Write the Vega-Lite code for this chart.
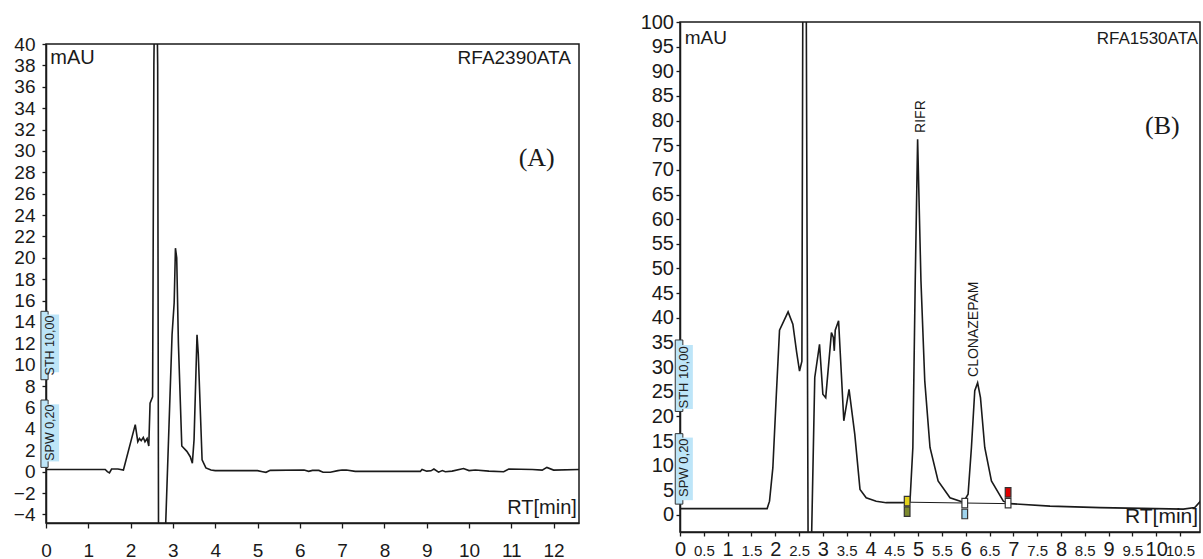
{
  "$schema": "https://vega.github.io/schema/vega-lite/v6.json",
  "background": "white",
  "padding": {"left": 12, "top": 11, "right": 4, "bottom": 0},
  "spacing": 59,
  "config": {
    "font": "Liberation Sans",
    "view": {"stroke": "#1a1a1a", "strokeWidth": 1.5},
    "axis": {"grid": false, "domainColor": "#1a1a1a", "domainWidth": 1.5, "tickColor": "#1a1a1a", "tickWidth": 1.3, "labelColor": "#1a1a1a", "labelFont": "Liberation Sans", "labelOverlap": false, "labelFlush": false, "title": null}
  },
  "datasets": {
    "traceA": [
      {"x": 0, "y": 0.2}, {"x": 1.4, "y": 0.2}, {"x": 1.45, "y": 0.0}, {"x": 1.5, "y": -0.12}, {"x": 1.55, "y": 0.25}, {"x": 1.7, "y": 0.25}, {"x": 1.83, "y": 0.15},
      {"x": 2.11, "y": 4.4}, {"x": 2.17, "y": 2.8}, {"x": 2.21, "y": 3.1}, {"x": 2.25, "y": 2.9}, {"x": 2.3, "y": 3.2}, {"x": 2.34, "y": 2.8}, {"x": 2.39, "y": 3.1}, {"x": 2.43, "y": 2.4},
      {"x": 2.46, "y": 6.4}, {"x": 2.52, "y": 7.0}, {"x": 2.55, "y": 38}, {"x": 2.57, "y": 45}, {"x": 2.62, "y": 45}, {"x": 2.64, "y": 38}, {"x": 2.66, "y": -6}, {"x": 2.82, "y": -6},
      {"x": 2.98, "y": 12.8}, {"x": 3.03, "y": 15.8}, {"x": 3.06, "y": 20.9}, {"x": 3.09, "y": 20}, {"x": 3.13, "y": 12}, {"x": 3.21, "y": 2.4}, {"x": 3.33, "y": 1.9}, {"x": 3.41, "y": 1.4}, {"x": 3.46, "y": 0.8},
      {"x": 3.5, "y": 3}, {"x": 3.57, "y": 12.8}, {"x": 3.6, "y": 11}, {"x": 3.69, "y": 1.1}, {"x": 3.78, "y": 0.35}, {"x": 3.9, "y": 0.15}, {"x": 4.0, "y": 0.1},
      {"x": 5.0, "y": 0.1}, {"x": 5.12, "y": 0.0}, {"x": 5.2, "y": -0.06}, {"x": 5.3, "y": 0.12}, {"x": 6.1, "y": 0.15}, {"x": 6.21, "y": 0.03}, {"x": 6.3, "y": 0.12}, {"x": 6.45, "y": 0.12},
      {"x": 6.55, "y": -0.05}, {"x": 6.72, "y": -0.06}, {"x": 6.9, "y": 0.1}, {"x": 7.0, "y": 0.15}, {"x": 7.1, "y": 0.15}, {"x": 7.31, "y": 0.03}, {"x": 8.85, "y": 0.03}, {"x": 8.89, "y": 0.2},
      {"x": 9.0, "y": 0.05}, {"x": 9.1, "y": 0.08}, {"x": 9.17, "y": 0.25}, {"x": 9.28, "y": -0.05}, {"x": 9.37, "y": 0.1}, {"x": 9.44, "y": 0.0}, {"x": 9.6, "y": 0.05}, {"x": 9.87, "y": 0.3},
      {"x": 10.0, "y": 0.1}, {"x": 10.15, "y": 0.15}, {"x": 10.47, "y": 0.05}, {"x": 10.82, "y": 0.0}, {"x": 10.94, "y": 0.25}, {"x": 11.5, "y": 0.2}, {"x": 11.73, "y": 0.15}, {"x": 11.84, "y": 0.4},
      {"x": 12.0, "y": 0.15}, {"x": 12.6, "y": 0.2}
    ],
    "traceB": [
      {"x": 0, "y": 1.3}, {"x": 1.83, "y": 1.3}, {"x": 1.88, "y": 2.8}, {"x": 1.95, "y": 9.6}, {"x": 2.02, "y": 23.8}, {"x": 2.09, "y": 37.5}, {"x": 2.27, "y": 41.2}, {"x": 2.37, "y": 38.7},
      {"x": 2.45, "y": 33}, {"x": 2.51, "y": 29.2}, {"x": 2.56, "y": 31.2}, {"x": 2.58, "y": 108}, {"x": 2.65, "y": 108}, {"x": 2.69, "y": -6}, {"x": 2.76, "y": -6},
      {"x": 2.83, "y": 27.9}, {"x": 2.93, "y": 34.6}, {"x": 3.0, "y": 24.5}, {"x": 3.06, "y": 23.8}, {"x": 3.18, "y": 37.0}, {"x": 3.22, "y": 36}, {"x": 3.24, "y": 33.3}, {"x": 3.26, "y": 37.5},
      {"x": 3.33, "y": 39.4}, {"x": 3.44, "y": 19.1}, {"x": 3.55, "y": 25.5}, {"x": 3.67, "y": 16.4}, {"x": 3.78, "y": 5.2}, {"x": 3.91, "y": 3.5}, {"x": 4.12, "y": 2.8}, {"x": 4.33, "y": 2.5},
      {"x": 4.68, "y": 2.5}, {"x": 4.83, "y": 2.8}, {"x": 4.89, "y": 13.7}, {"x": 4.94, "y": 47.5}, {"x": 4.99, "y": 76.2}, {"x": 5.06, "y": 47.5}, {"x": 5.14, "y": 27.2}, {"x": 5.25, "y": 13.7},
      {"x": 5.42, "y": 6.9}, {"x": 5.67, "y": 3.5}, {"x": 5.95, "y": 2.6}, {"x": 6.05, "y": 4.2}, {"x": 6.12, "y": 13.7}, {"x": 6.19, "y": 25.2}, {"x": 6.25, "y": 26.8}, {"x": 6.31, "y": 23.8},
      {"x": 6.4, "y": 13.7}, {"x": 6.54, "y": 6.9}, {"x": 6.79, "y": 2.8}, {"x": 6.93, "y": 2.3}, {"x": 7.77, "y": 1.8}, {"x": 8.82, "y": 1.5}, {"x": 10.57, "y": 1.2}, {"x": 10.81, "y": 1.5}, {"x": 10.95, "y": 3.0}
    ],
    "baseB": [{"x": 4.77, "y": 2.6}, {"x": 6.89, "y": 2.3}],
    "flagsB": [
      {"x": 4.77, "y": 2.8, "flag": "start"}, {"x": 4.77, "y": 0.7, "flag": "startLow"},
      {"x": 5.98, "y": 2.4, "flag": "split"}, {"x": 5.98, "y": 0.2, "flag": "splitLow"},
      {"x": 6.89, "y": 2.4, "flag": "split"}, {"x": 6.89, "y": 4.6, "flag": "endHigh"}
    ],
    "boxA": [{"x": -0.12, "x2": 0.05, "y": 8.6, "y2": 15.0}, {"x": -0.12, "x2": 0.05, "y": 0.4, "y2": 6.7}],
    "hlA": [{"x": 0.02, "x2": 0.31, "y": 9.3, "y2": 14.7}, {"x": 0.02, "x2": 0.31, "y": 0.96, "y2": 6.3}],
    "boxTextA": [{"x": 0.1, "y": 11.8, "label": "STH 10,00"}, {"x": 0.1, "y": 3.65, "label": "SPW 0,20"}],
    "boxB": [{"x": -0.1, "x2": 0.06, "y": 21.0, "y2": 35.5}, {"x": -0.1, "x2": 0.06, "y": 2.2, "y2": 16.5}],
    "hlB": [{"x": 0.02, "x2": 0.27, "y": 21.5, "y2": 34.5}, {"x": 0.02, "x2": 0.27, "y": 3.0, "y2": 15.7}],
    "boxTextB": [{"x": 0.09, "y": 27.9, "label": "STH 10,00"}, {"x": 0.09, "y": 9.6, "label": "SPW 0,20"}],
    "unitA": [{"x": 0.1, "y": 38.1, "label": "mAU"}],
    "fileA": [{"x": 12.41, "y": 38.1, "label": "RFA2390ATA"}],
    "rtA": [{"x": 12.55, "y": -4.0, "label": "RT[min]"}],
    "panelA": [{"x": 11.6, "y": 28.6, "label": "(A)"}],
    "unitB": [{"x": 0.1, "y": 95.5, "label": "mAU"}],
    "fileB": [{"x": 10.88, "y": 95.5, "label": "RFA1530ATA"}],
    "rtB": [{"x": 10.88, "y": -1.56, "label": "RT[min]"}],
    "panelB": [{"x": 10.13, "y": 77.2, "label": "(B)"}],
    "peaksB": [{"x": 5.06, "y": 77.5, "label": "RIFR"}, {"x": 6.17, "y": 28.0, "label": "CLONAZEPAM"}]
  },
  "hconcat": [
    {
      "spacing": 4,
      "vconcat": [
        {"width": 533, "height": 7.5, "data": {"values": []}, "mark": "point", "view": {"stroke": null}},
        {
          "width": 533,
          "height": 479,
          "encoding": {
            "x": {"field": "x", "type": "quantitative", "scale": {"domain": [0, 12.6], "nice": false, "zero": false},
                  "axis": {"values": [0, 1, 2, 3, 4, 5, 6, 7, 8, 9, 10, 11, 12], "labelFontSize": 19, "tickSize": 5, "labelPadding": 13}},
            "y": {"field": "y", "type": "quantitative", "scale": {"domain": [-4.8, 40], "nice": false, "zero": false},
                  "axis": {"values": [-4, -2, 0, 2, 4, 6, 8, 10, 12, 14, 16, 18, 20, 22, 24, 26, 28, 30, 32, 34, 36, 38, 40], "labelFontSize": 19, "tickSize": 4, "labelPadding": 7}}
          },
          "layer": [
            {"data": {"name": "traceA"}, "mark": {"type": "line", "clip": true, "color": "#1a1a1a", "strokeWidth": 1.6}},
            {"data": {"name": "boxA"}, "mark": {"type": "rect", "fill": "#bde5f8", "stroke": "#333333", "strokeWidth": 1}, "encoding": {"x2": {"field": "x2"}, "y2": {"field": "y2"}}},
            {"data": {"name": "hlA"}, "mark": {"type": "rect", "fill": "#bde5f8"}, "encoding": {"x2": {"field": "x2"}, "y2": {"field": "y2"}}},
            {"data": {"name": "boxTextA"}, "mark": {"type": "text", "angle": 270, "fontSize": 12.5, "align": "center", "baseline": "middle", "color": "#222222"}, "encoding": {"text": {"field": "label"}}},
            {"data": {"name": "unitA"}, "mark": {"type": "text", "fontSize": 20, "align": "left", "baseline": "alphabetic", "color": "#1a1a1a"}, "encoding": {"text": {"field": "label"}}},
            {"data": {"name": "fileA"}, "mark": {"type": "text", "fontSize": 19, "align": "right", "baseline": "alphabetic", "color": "#1a1a1a"}, "encoding": {"text": {"field": "label"}}},
            {"data": {"name": "rtA"}, "mark": {"type": "text", "fontSize": 20, "align": "right", "baseline": "alphabetic", "color": "#1a1a1a"}, "encoding": {"text": {"field": "label"}}},
            {"data": {"name": "panelA"}, "mark": {"type": "text", "fontSize": 26, "font": "Liberation Serif", "align": "center", "baseline": "alphabetic", "color": "#1a1a1a"}, "encoding": {"text": {"field": "label"}}}
          ]
        }
      ]
    },
    {
      "width": 520,
      "height": 510,
      "encoding": {
        "x": {"field": "x", "type": "quantitative", "scale": {"domain": [0, 10.92], "nice": false, "zero": false},
              "axis": {"values": [0, 0.5, 1, 1.5, 2, 2.5, 3, 3.5, 4, 4.5, 5, 5.5, 6, 6.5, 7, 7.5, 8, 8.5, 9, 9.5, 10, 10.5],
                       "labelExpr": "toString(datum.value)",
                       "labelFontSize": {"condition": {"test": "datum.value % 1 === 0", "value": 20}, "value": 15},
                       "labelBaseline": "alphabetic", "tickSize": 4, "labelPadding": 19}},
        "y": {"field": "y", "type": "quantitative", "scale": {"domain": [-3.45, 100], "nice": false, "zero": false},
              "axis": {"values": [0, 5, 10, 15, 20, 25, 30, 35, 40, 45, 50, 55, 60, 65, 70, 75, 80, 85, 90, 95, 100], "labelFontSize": 20, "tickSize": 4, "labelPadding": 2.5}}
      },
      "layer": [
        {"data": {"name": "baseB"}, "mark": {"type": "line", "color": "#1a1a1a", "strokeWidth": 1}},
        {"data": {"name": "traceB"}, "mark": {"type": "line", "clip": true, "color": "#1a1a1a", "strokeWidth": 1.6}},
        {"data": {"name": "flagsB"}, "mark": {"type": "point", "filled": true, "shape": "M-0.6,-1L0.6,-1L0.6,1L-0.6,1Z", "size": 90, "stroke": "#333333", "strokeWidth": 1.2, "opacity": 1},
         "encoding": {"color": {"field": "flag", "type": "nominal", "legend": null,
                      "scale": {"domain": ["start", "startLow", "split", "splitLow", "endHigh"], "range": ["#e3d21a", "#7d8a2e", "#ffffff", "#9fd4ee", "#e00000"]}}}},
        {"data": {"name": "boxB"}, "mark": {"type": "rect", "fill": "#bde5f8", "stroke": "#333333", "strokeWidth": 1}, "encoding": {"x2": {"field": "x2"}, "y2": {"field": "y2"}}},
        {"data": {"name": "hlB"}, "mark": {"type": "rect", "fill": "#bde5f8"}, "encoding": {"x2": {"field": "x2"}, "y2": {"field": "y2"}}},
        {"data": {"name": "boxTextB"}, "mark": {"type": "text", "angle": 270, "fontSize": 13, "align": "center", "baseline": "middle", "color": "#222222"}, "encoding": {"text": {"field": "label"}}},
        {"data": {"name": "unitB"}, "mark": {"type": "text", "fontSize": 19, "align": "left", "baseline": "alphabetic", "color": "#1a1a1a"}, "encoding": {"text": {"field": "label"}}},
        {"data": {"name": "fileB"}, "mark": {"type": "text", "fontSize": 17, "align": "right", "baseline": "alphabetic", "color": "#1a1a1a"}, "encoding": {"text": {"field": "label"}}},
        {"data": {"name": "rtB"}, "mark": {"type": "text", "fontSize": 21, "align": "right", "baseline": "alphabetic", "color": "#1a1a1a"}, "encoding": {"text": {"field": "label"}}},
        {"data": {"name": "panelB"}, "mark": {"type": "text", "fontSize": 26, "font": "Liberation Serif", "align": "center", "baseline": "alphabetic", "color": "#1a1a1a"}, "encoding": {"text": {"field": "label"}}},
        {"data": {"name": "peaksB"}, "mark": {"type": "text", "angle": 270, "fontSize": 14, "align": "left", "baseline": "middle", "color": "#1a1a1a"}, "encoding": {"text": {"field": "label"}}}
      ]
    }
  ]
}
